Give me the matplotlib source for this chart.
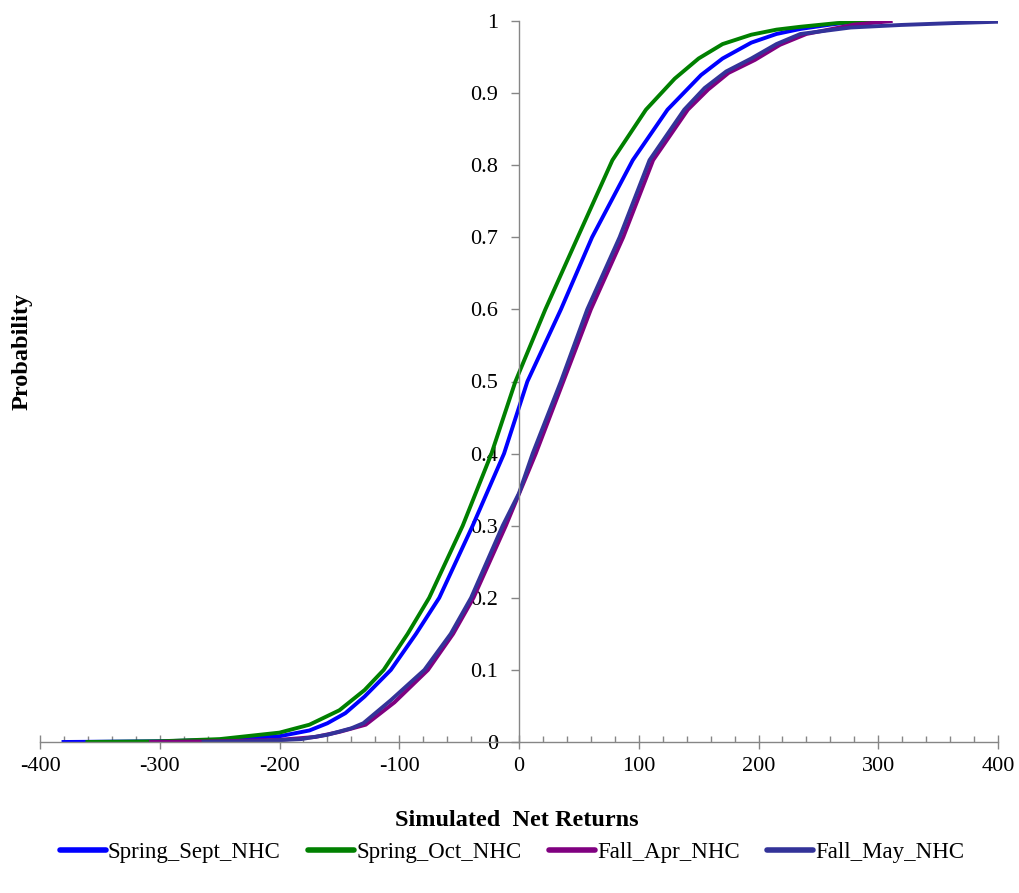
import matplotlib
matplotlib.use("Agg")
import matplotlib.pyplot as plt
import numpy as np
from matplotlib.ticker import MultipleLocator

plt.rcParams['font.family'] = ['Liberation Serif', 'DejaVu Serif']
plt.rcParams['axes.unicode_minus'] = False

# cumulative distribution points (net return, probability)
spring_sept_x = [-382, -300, -250, -200, -175, -160, -145, -129, -107, -86, -66.6, -38.7, -12.5, 7, 35, 61, 95, 124, 152, 170, 194, 215, 235, 260, 285]
spring_sept_y = [0.0, 0.001, 0.003, 0.008, 0.016, 0.026, 0.04, 0.063, 0.10, 0.15, 0.20, 0.30, 0.40, 0.50, 0.60, 0.70, 0.807, 0.877, 0.925, 0.948, 0.970, 0.982, 0.989, 0.995, 1.0]

spring_oct_x = [-362, -300, -250, -200, -175, -150, -129, -113, -93, -75, -47, -23, -3, 22, 49, 78, 106, 130, 150, 170, 194, 215, 235, 265, 296]
spring_oct_y = [0.0, 0.001, 0.004, 0.013, 0.024, 0.044, 0.072, 0.10, 0.15, 0.20, 0.30, 0.40, 0.50, 0.60, 0.70, 0.807, 0.877, 0.92, 0.948, 0.968, 0.981, 0.988, 0.992, 0.997, 1.0]

fall_apr_x = [-309, -250, -200, -170, -150, -128, -104, -76, -55, -38, -11, 14, 37, 60, 87, 112, 141, 158, 175, 197, 218, 240, 280, 312]
fall_apr_y = [0.0, 0.001, 0.003, 0.007, 0.014, 0.024, 0.055, 0.10, 0.15, 0.20, 0.30, 0.40, 0.50, 0.60, 0.70, 0.807, 0.877, 0.905, 0.928, 0.946, 0.967, 0.982, 0.995, 1.0]

fall_may_x = [-265, -220, -182, -160, -140, -130, -107, -79, -57, -40, -13.6, 0, 11.4, 35, 57, 84, 109, 138, 155, 173, 194, 215, 235, 277, 319, 361, 400]
fall_may_y = [0.0, 0.001, 0.004, 0.010, 0.019, 0.026, 0.058, 0.10, 0.15, 0.20, 0.30, 0.345, 0.40, 0.50, 0.60, 0.70, 0.807, 0.877, 0.907, 0.930, 0.948, 0.968, 0.982, 0.991, 0.9945, 0.997, 0.999]

series = [
    ("Spring_Sept_NHC", spring_sept_x, spring_sept_y, "#0000FF"),
    ("Spring_Oct_NHC", spring_oct_x, spring_oct_y, "#008000"),
    ("Fall_Apr_NHC", fall_apr_x, fall_apr_y, "#800080"),
    ("Fall_May_NHC", fall_may_x, fall_may_y, "#333399"),
]

x_ticks = [-400, -300, -200, -100, 0, 100, 200, 300, 400]
y_ticks = [0, 0.1, 0.2, 0.3, 0.4, 0.5, 0.6, 0.7, 0.8, 0.9, 1]
y_tick_labels = ["0", "0.1", "0.2", "0.3", "0.4", "0.5", "0.6", "0.7", "0.8", "0.9", "1"]

fig = plt.figure(figsize=(10.19, 8.93), dpi=100)
ax = fig.add_axes([40 / 1019, 1 - 742 / 893, 958 / 1019, 721 / 893])

for name, xs, ys, col in series:
    ax.plot(xs, ys, color=col, lw=2.8, label=name, solid_capstyle='butt')

ax.set_xlim(-400, 400)
ax.set_ylim(0, 1)

axis_grey = "#868686"
ax.spines['left'].set_position(('data', 0))
ax.spines['right'].set_visible(False)
ax.spines['top'].set_visible(False)
for s in ('left', 'bottom'):
    ax.spines[s].set_color(axis_grey)
    ax.spines[s].set_linewidth(1.0)

ax.set_xticks(x_ticks, [str(v) for v in x_ticks])
ax.xaxis.set_minor_locator(MultipleLocator(20))
ax.set_yticks(y_ticks, y_tick_labels)
ax.tick_params(axis='x', which='major', direction='inout', length=10, width=1.0,
               color=axis_grey, labelsize=16, pad=6)
ax.tick_params(axis='x', which='minor', direction='in', length=4, width=1.0, color=axis_grey)
ax.tick_params(axis='y', which='major', direction='out', length=6, width=1.0,
               color=axis_grey, labelsize=16, pad=9)

fig.text(517 / 1019, 1 - 820 / 893, "Simulated  Net Returns", ha='center', va='center',
         fontsize=17.5, fontweight='bold')
fig.text(22 / 1019, 1 - 351 / 893, "Probability", ha='center', va='center',
         rotation=90, fontsize=17.5, fontweight='bold')

leg = fig.legend(loc='center', bbox_to_anchor=(512 / 1019, 1 - 852 / 893), ncol=4,
                 frameon=False, fontsize=16.5, handlelength=2.0, handletextpad=0.1,
                 columnspacing=1.2)
for h in leg.legend_handles:
    h.set_linewidth(4)
    h.set_solid_capstyle('round')

fig.savefig("out.png", dpi=100)
